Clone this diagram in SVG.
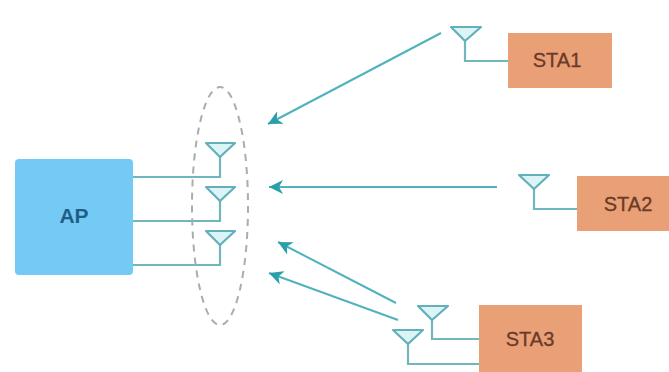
<svg xmlns="http://www.w3.org/2000/svg" width="669" height="372" viewBox="0 0 669 372">
  <defs>
    <marker id="arrow" markerUnits="userSpaceOnUse" markerWidth="16" markerHeight="14" refX="14" refY="7" orient="auto">
      <path d="M0 0 L14 7 L0 14 L4 7 Z" fill="#2a9fa9"/>
    </marker>
  </defs>
  <style>
    .ant { fill: #dcf4f6; stroke: #62b0b9; stroke-width: 2.2; stroke-linejoin: round; }
    .wire { fill: none; stroke: #6fb6bd; stroke-width: 2.2; }
    .arr { fill: none; stroke: #4fb3bd; stroke-width: 2; marker-end: url(#arrow); }
    .sta { fill: #e9a077; }
    .stat { font: 20px "Liberation Sans", Arial, sans-serif; fill: #6b3a26; text-anchor: middle; stroke: #6b3a26; stroke-width: 0.3; }
  </style>
  <rect width="669" height="372" fill="#ffffff"/>
  <g id="connectors">
    <path class="wire" d="M133 177H220V157"/>
    <path class="wire" d="M133 221H220V201"/>
    <path class="wire" d="M133 265H220V245"/>
    <path class="wire" d="M508 61H465V41"/>
    <path class="wire" d="M577 209H534V189"/>
    <path class="wire" d="M479 339H432V320"/>
    <path class="wire" d="M479 364H408V344"/>
    <path class="arr" d="M441 33L268 124"/>
    <path class="arr" d="M497 187H269"/>
    <path class="arr" d="M396 303L278 242"/>
    <path class="arr" d="M398 320L269 273"/>
  </g>
  <g id="ap">
    <rect x="15" y="159" width="118" height="116" rx="4" fill="#74c9f5"/>
    <text x="74" y="223" font-family="Liberation Sans, Arial, sans-serif" font-size="21" font-weight="bold" fill="#1f5f86" text-anchor="middle">AP</text>
  </g>
  <g id="beam">
    <ellipse cx="220" cy="206" rx="28" ry="119" fill="none" stroke="#a9adab" stroke-width="2" stroke-dasharray="7 6"/>
  </g>
  <g id="ap-antenna-1"><path class="ant" d="M206 143H235L220 157Z"/></g>
  <g id="ap-antenna-2"><path class="ant" d="M206 187H235L220 201Z"/></g>
  <g id="ap-antenna-3"><path class="ant" d="M206 231H235L220 245Z"/></g>
  <g id="sta1">
    <path class="ant" d="M451 27H481L465 41Z"/>
    <rect class="sta" x="508" y="33" width="104" height="55"/>
    <text class="stat" x="557" y="67">STA1</text>
  </g>
  <g id="sta2">
    <path class="ant" d="M519 175H549L534 189Z"/>
    <rect class="sta" x="577" y="176" width="92" height="55"/>
    <text class="stat" x="628" y="211">STA2</text>
  </g>
  <g id="sta3">
    <path class="ant" d="M418 306H448L432 320Z"/>
    <path class="ant" d="M393 330H423L408 344Z"/>
    <rect class="sta" x="479" y="305" width="103" height="67"/>
    <text class="stat" x="530" y="346">STA3</text>
  </g>
</svg>
